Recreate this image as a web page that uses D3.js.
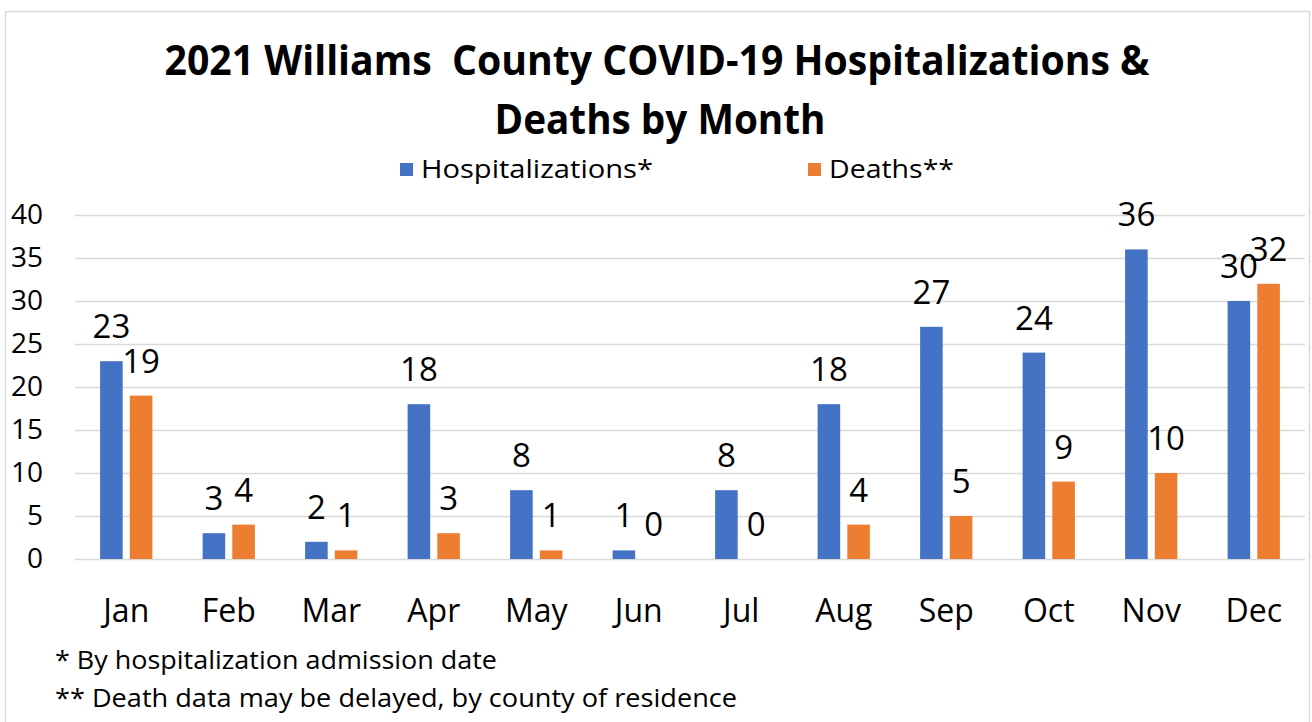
<!DOCTYPE html>
<html>
<head>
<meta charset="utf-8">
<script src="https://cdn.jsdelivr.net/npm/d3@7"></script>
<style>
  body { margin: 0; background: #fff; }
  text { font-family: "Open Sans", sans-serif; fill: #000; white-space: pre; }
</style>
</head>
<body>
<script>
var months = ['Jan', 'Feb', 'Mar', 'Apr', 'May', 'Jun', 'Jul', 'Aug', 'Sep', 'Oct', 'Nov', 'Dec'];
var hospitalizations = [23, 3, 2, 18, 8, 1, 8, 18, 27, 24, 36, 30];
var deaths = [19, 4, 1, 3, 1, 0, 0, 4, 5, 9, 10, 32];
var seriesNames = ['Hospitalizations*', 'Deaths**'];
var seriesColors = ['#4472C4', '#ED7D31'];
var yTicks = [0, 5, 10, 15, 20, 25, 30, 35, 40];

var width = 1312;
var height = 722;

var margin = {
    left: 75,
    right: 7,
    top: 215,
    bottom: 163
}
var plotW = width - margin.left - margin.right;
var plotH = height - margin.top - margin.bottom;

var svg = d3.select("body").append("svg").attr("width", width).attr("height", height);

// outer chart border
svg.append("rect")
    .attr("x", 5.5).attr("y", 11.5)
    .attr("width", 1304).attr("height", 730)
    .attr("fill", "none").attr("stroke", "#d9d9d9").attr("stroke-width", 1.5);

var x0 = d3.scaleBand()
    .domain(months)
    .range([0, plotW])
    .paddingInner(0.49)
    .paddingOuter(0.245);

var x1 = d3.scaleBand()
    .domain([0, 1])
    .range([0, x0.bandwidth()])
    .paddingInner(0.24);

var y = d3.scaleLinear()
    .domain([0, 40])
    .range([plotH, 0]);

var chartGroup = svg.append("g").attr("transform",
    "translate(" + margin.left + ", " + margin.top + ")");

// gridlines
chartGroup.append("g")
    .selectAll("line").data(yTicks).enter().append("line")
    .attr("x1", 0).attr("x2", plotW)
    .attr("y1", function (d) { return Math.round(y(d)) + 0.5; })
    .attr("y2", function (d) { return Math.round(y(d)) + 0.5; })
    .attr("stroke", "#d9d9d9").attr("stroke-width", 1.5);

// y axis labels
var yAxis = d3.axisLeft(y).tickValues(yTicks).tickSize(0).tickPadding(32);
chartGroup.append("g")
    .attr("class", "axis y")
    .call(yAxis)
    .call(function (g) { g.select(".domain").remove(); })
    .selectAll("text")
    .attr("font-family", "Open Sans, sans-serif")
    .attr("font-size", 28)
    .attr("fill", "#000");

// x axis labels
var xAxis = d3.axisBottom(x0).tickSize(0).tickPadding(40);
chartGroup.append("g")
    .attr("transform", "translate(0," + plotH + ")")
    .call(xAxis)
    .call(function (g) { g.select(".domain").remove(); })
    .selectAll("text")
    .attr("font-family", "Open Sans, sans-serif")
    .attr("font-size", 32)
    .attr("fill", "#000");

var rows = months.map(function (m, i) {
    return { month: m, values: [hospitalizations[i], deaths[i]] };
});

var groups = chartGroup.selectAll(".month").data(rows).enter().append("g")
    .attr("class", "month")
    .attr("transform", function (d) { return "translate(" + x0(d.month) + ",0)"; });

groups.selectAll("rect").data(function (d) { return d.values; }).enter().append("rect")
    .attr("x", function (d, i) { return x1(i); })
    .attr("width", x1.bandwidth())
    .attr("y", function (d) { return y(d); })
    .attr("height", function (d) { return plotH - y(d); })
    .attr("fill", function (d, i) { return seriesColors[i]; });

groups.selectAll("text.lbl").data(function (d) { return d.values; }).enter().append("text")
    .attr("class", "lbl")
    .attr("x", function (d, i) { return x1(i) + x1.bandwidth() / 2; })
    .attr("y", function (d) { return y(d) - 23; })
    .attr("text-anchor", "middle")
    .attr("font-size", 33)
    .attr("fill", "#262626")
    .text(function (d) { return d; });

// title
svg.append("text")
    .attr("x", 657).attr("y", 75)
    .attr("text-anchor", "middle")
    .attr("font-size", 41).attr("font-weight", "bold")
    .attr("textLength", 985).attr("lengthAdjust", "spacingAndGlyphs")
    .text("2021 Williams  County COVID-19 Hospitalizations &");
svg.append("text")
    .attr("x", 660).attr("y", 134)
    .attr("text-anchor", "middle")
    .attr("font-size", 41).attr("font-weight", "bold")
    .attr("textLength", 331).attr("lengthAdjust", "spacingAndGlyphs")
    .text("Deaths by Month");

// legend
var legendX = [400, 808];
var legendW = [232, 125];
var legend = svg.selectAll(".legend").data(seriesNames).enter().append("g")
    .attr("class", "legend")
    .attr("transform", function (d, i) { return "translate(" + legendX[i] + ",0)"; });
legend.append("rect")
    .attr("x", 0).attr("y", 163).attr("width", 13).attr("height", 13)
    .attr("fill", function (d, i) { return seriesColors[i]; });
legend.append("text")
    .attr("x", 21).attr("y", 178)
    .attr("font-size", 25)
    .attr("fill", "#262626")
    .attr("textLength", function (d, i) { return legendW[i]; })
    .attr("lengthAdjust", "spacingAndGlyphs")
    .text(function (d) { return d; });

// footnotes
svg.append("text")
    .attr("x", 55).attr("y", 669)
    .attr("font-size", 25)
    .attr("textLength", 442).attr("lengthAdjust", "spacingAndGlyphs")
    .text("* By hospitalization admission date");
svg.append("text")
    .attr("x", 55).attr("y", 707)
    .attr("font-size", 25)
    .attr("textLength", 682).attr("lengthAdjust", "spacingAndGlyphs")
    .text("** Death data may be delayed, by county of residence");
</script>
</body>
</html>
